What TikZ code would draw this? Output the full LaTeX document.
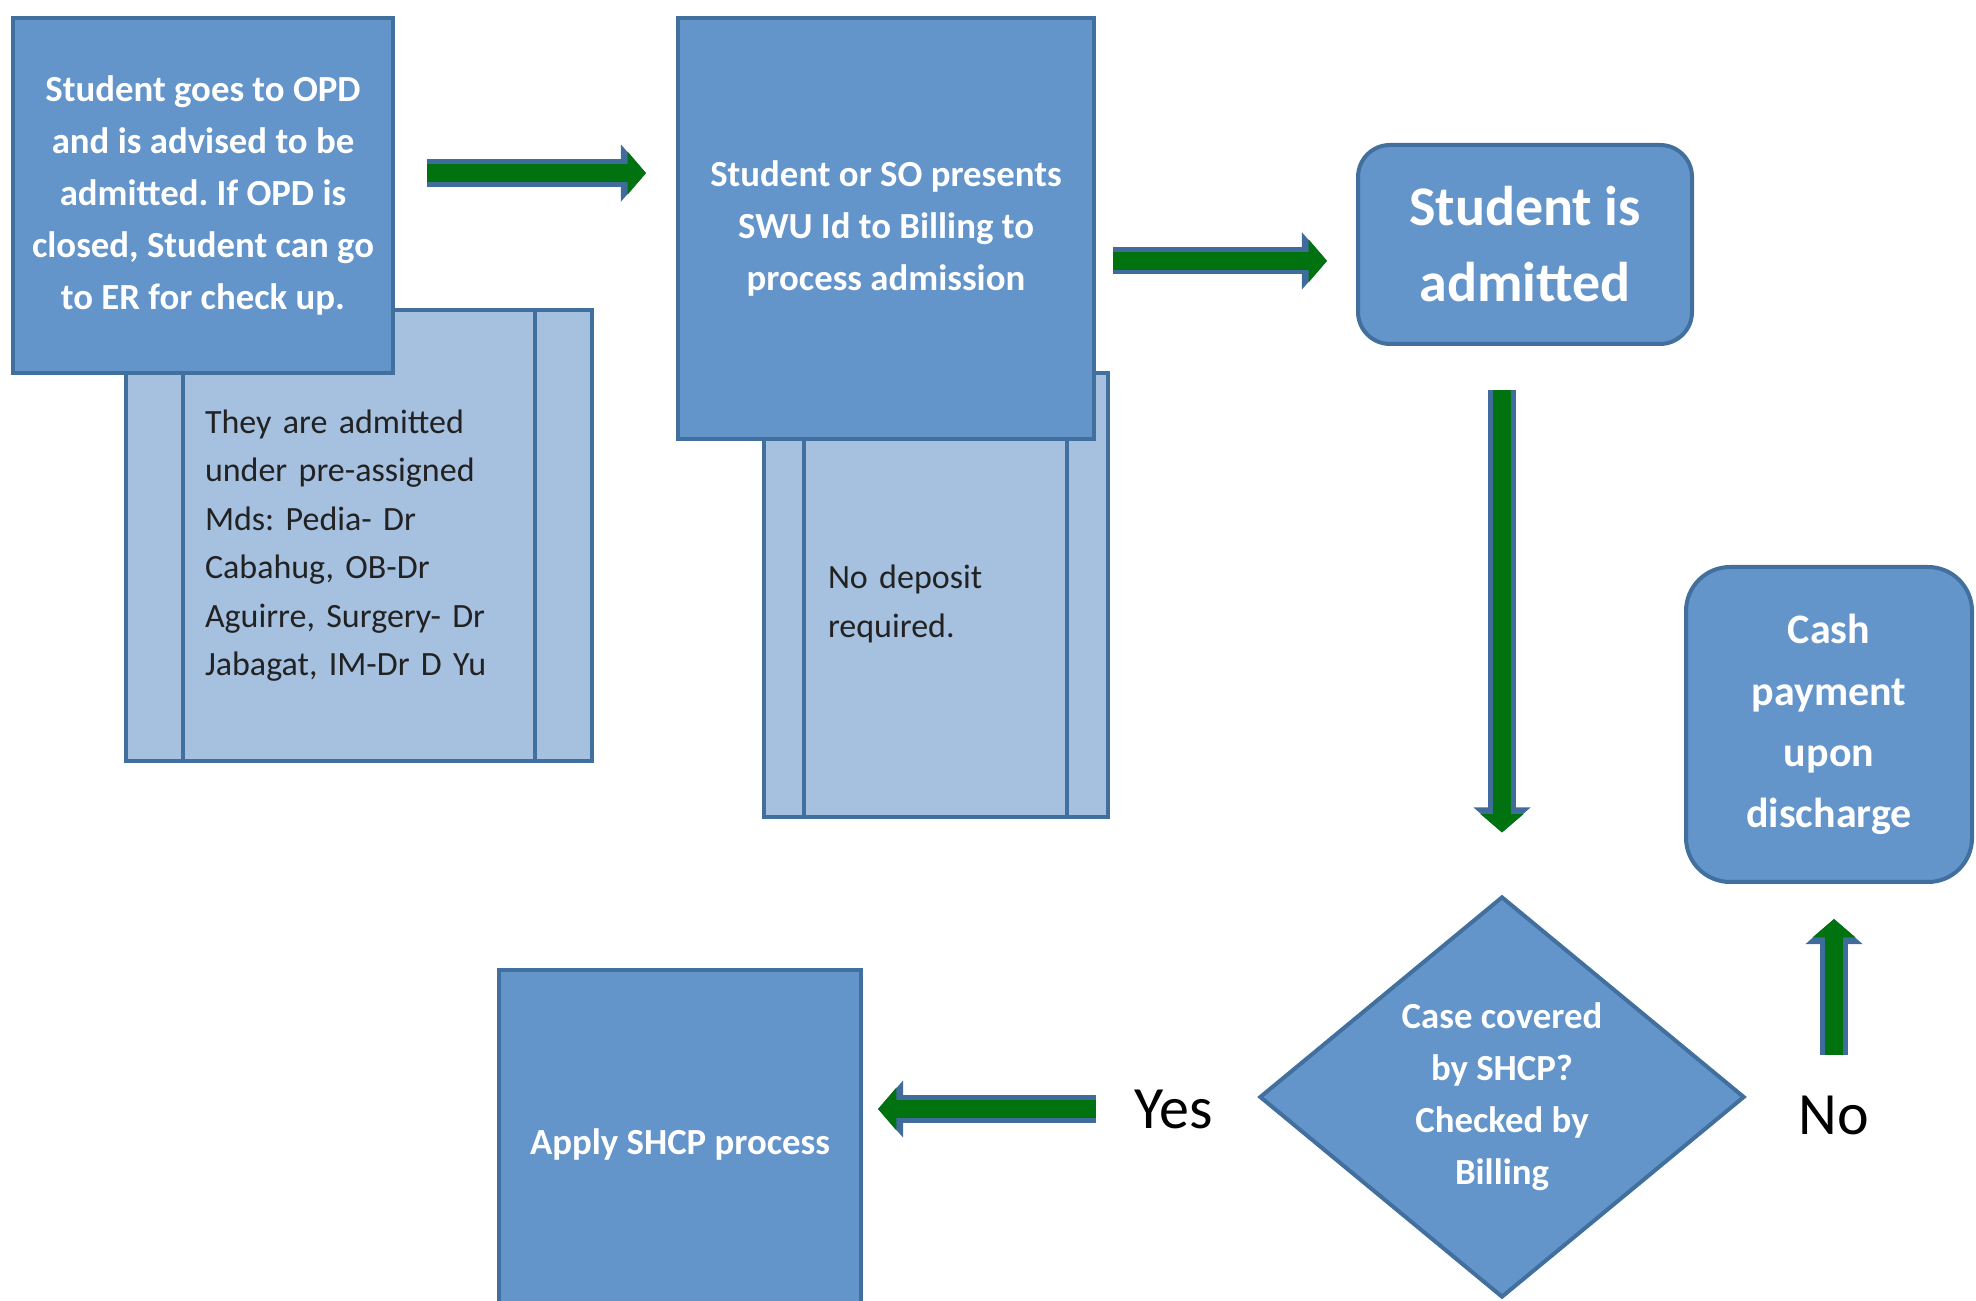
\documentclass[tikz,border=0pt]{standalone}
\usepackage{fontspec}
\setmainfont{Carlito}
\frenchspacing
\usetikzlibrary{shapes.geometric,arrows.meta}
\definecolor{boxblue}{HTML}{6394CA}
\definecolor{boxedge}{HTML}{41709E}
\definecolor{noteblue}{HTML}{A6C0E0}
\definecolor{notetext}{HTML}{222222}
\definecolor{arrowgreen}{HTML}{00720F}
\definecolor{arrowedge}{HTML}{3F6C9A}
\begin{document}
\begin{tikzpicture}[x=0.25pt,y=-0.25pt,
  stepbox/.style={rectangle, draw=boxedge, fill=boxblue, line width=1pt, text=white, align=center, inner sep=0pt, font=\bfseries\fontsize{9.2}{13}\selectfont},
  roundbox/.style={stepbox, rounded corners=8pt},
  notebox/.style={rectangle, draw=boxedge, fill=noteblue, line width=1pt, text=notetext, align=left, inner ysep=0pt, font=\fontsize{8.5}{12.1}\selectfont},
  noteline/.style={draw=boxedge, line width=1pt},
  answer/.style={inner sep=0pt, font=\fontsize{15}{18}\selectfont},
  flow/.style={line width=4.6pt, draw=arrowgreen, -{Triangle[width=10.5pt,length=4.6pt]},
    preaction={draw=arrowedge, line width=6.8pt, -{Triangle[width=14pt,length=6.3pt]}}}]
\useasboundingbox (0,0) rectangle (1976,1301);
% side notes, under the boxes
\node [notebox, minimum width=116.5pt, minimum height=112.75pt, text width=77pt, inner xsep=19.75pt, text height=11pt] (pre) at (359,535.5) {They are admitted\\under pre-assigned\\Mds: Pedia- Dr\\Cabahug, OB-Dr\\Aguirre, Surgery- Dr\\Jabagat, IM-Dr D Yu};
\draw [noteline] ([xshift=14.75pt]pre.north west) -- ([xshift=14.75pt]pre.south west);
\draw [noteline] ([xshift=-14.75pt]pre.north east) -- ([xshift=-14.75pt]pre.south east);
\node [notebox, minimum width=86pt, minimum height=111pt, text width=54pt, inner xsep=16pt, text height=10.4pt] (dep) at (936,595) {No deposit\\required.};
\draw [noteline] ([xshift=10.5pt]dep.north west) -- ([xshift=10.5pt]dep.south west);
\draw [noteline] ([xshift=-10.75pt]dep.north east) -- ([xshift=-10.75pt]dep.south east);
% steps
\node [stepbox, minimum width=95pt, minimum height=88.75pt] (opd) at (203,195.5) {Student goes to OPD\\and is advised to be\\admitted. If OPD is\\closed, Student can go\\to ER for check up.};
\node [stepbox, minimum width=104pt, minimum height=105.25pt] (bill) at (886,228.5) {Student or SO presents\\SWU Id to Billing to\\process admission};
\node [roundbox, minimum width=83.5pt, minimum height=49.75pt, font=\bfseries\fontsize{14}{19}\selectfont] (adm) at (1525,244.5) {Student is\\admitted};
\node [roundbox, rounded corners=11pt, minimum width=71.5pt, minimum height=78.75pt, font=\bfseries\fontsize{10.5}{15.3}\selectfont] (cash) at (1829,724.5) {Cash\\payment\\upon\\discharge};
\node [stepbox, diamond, aspect=1.2, minimum width=121.25pt, minimum height=100.25pt] (dec) at (1502,1097) {Case covered\\by SHCP?\\Checked by\\Billing};
\node [stepbox, minimum width=90.5pt, minimum height=87pt] (shcp) at (680,1144) {Apply SHCP process};
\node [answer] (yes) at (1174,1109) {Yes};
\node [answer] (no) at (1834,1115) {No};
% arrows
\draw [flow, shorten <=8pt, shorten >=7.5pt] ([yshift=5.6pt]opd.east) -- ([yshift=5.6pt]opd.east -| bill.west);
\draw [flow, shorten <=4.25pt, shorten >=7.25pt] ([yshift=-8.1pt]bill.east) -- ([yshift=-8.1pt]bill.east -| adm.west);
\draw [flow, shorten <=11pt, shorten >=15.5pt] (adm.south -| dec.north) -- (dec.north);
\draw [flow, shorten <=9.5pt, shorten >=3.75pt] (yes.west) -- (yes.west -| shcp.east);
\draw [flow, shorten <=10pt, shorten >=8.75pt] (no.north) -- (no.north |- cash.south);
\end{tikzpicture}
\end{document}
